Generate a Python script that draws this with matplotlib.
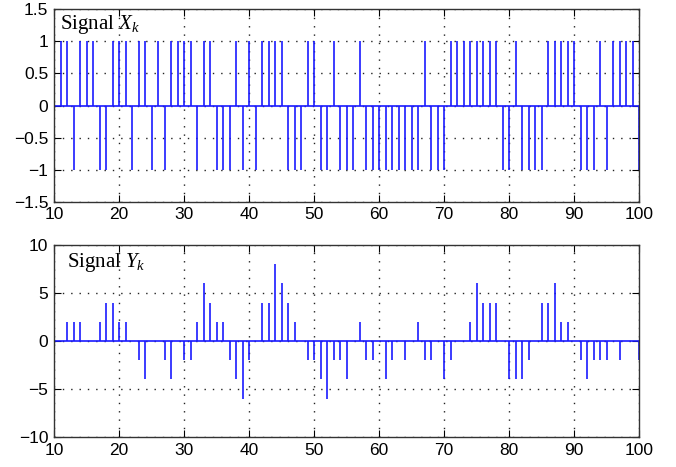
import numpy as np
import matplotlib.pyplot as plt

plt.rcParams['font.family'] = ['Liberation Sans', 'DejaVu Sans']
plt.rcParams['mathtext.fontset'] = 'custom'
plt.rcParams['mathtext.rm'] = 'Liberation Serif'
plt.rcParams['mathtext.it'] = 'Liberation Serif:italic'

k = np.arange(10, 101)

# signal X_k (+1 / -1), k = 10..100
x_vals = [-1, 1, 1, -1, 1, 1, 1, -1, -1, 1,     # 10-19
          1, 1, -1, 1, 1, -1, 1, -1, 1, 1,      # 20-29
          1, 1, -1, 1, 1, -1, -1, -1, 1, -1,    # 30-39
          1, -1, 1, 1, 1, 1, -1, -1, -1, 1,     # 40-49
          1, -1, -1, 1, -1, -1, -1, 1, -1, -1,  # 50-59
          -1, -1, -1, -1, -1, -1, -1, 1, -1, -1,  # 60-69
          -1, 1, 1, 1, 1, 1, 1, 1, 1, -1,       # 70-79
          -1, 1, -1, -1, -1, -1, 1, 1, 1, 1,    # 80-89
          1, -1, -1, -1, 1, -1, 1, 1, 1, 1,     # 90-99
          -1]                                   # 100

# signal Y_k, k = 10..100
y_vals = [-2, 0, 2, 2, 2, 0, 0, 2, 4, 4,        # 10-19
          2, 2, 0, -2, -4, 0, 0, -2, -4, 0,     # 20-29
          -2, -2, 2, 6, 4, 2, 2, -2, -4, -6,    # 30-39
          -2, 0, 4, 4, 8, 6, 4, 2, 0, -2,       # 40-49
          -2, -4, -6, -2, -2, -4, 0, 2, -2, -2, # 50-59
          0, -4, -2, 0, -2, 0, 2, -2, -2, 0,    # 60-69
          -4, -2, 0, 0, 2, 6, 4, 4, 4, 0,       # 70-79
          -4, -4, -4, -2, 0, 4, 4, 6, 2, 2,     # 80-89
          0, -2, -4, -2, -2, -2, 0, -2, 0, 0,   # 90-99
          -2]                                   # 100

fig = plt.figure(figsize=(6.76, 4.67), dpi=100)
ax1 = fig.add_axes([0.0799, 0.568, 0.8654, 0.412])
ax2 = fig.add_axes([0.0799, 0.0642, 0.8654, 0.411])

def draw(ax, vals, ylim, yticks, label, lab_xy):
    m, s, b = ax.stem(k, vals, linefmt='-', markerfmt=' ', basefmt='-')
    plt.setp(s, color='#1a1aff', linewidth=1.2)
    plt.setp(b, color='#1a1aff', linewidth=1.2)
    ax.set_xlim(10, 100)
    ax.set_ylim(*ylim)
    ax.set_xticks(np.arange(10, 101, 10))
    ax.set_yticks(yticks)
    ax.grid(True, linestyle=(0, (1, 5)), color='#222222', linewidth=1.0)
    ax.tick_params(direction='in', top=True, right=True, labelsize=12.5,
                   length=5, pad=4)
    for sp in ax.spines.values():
        sp.set_color('#333333')
        sp.set_linewidth(1.0)
    ax.text(lab_xy[0], lab_xy[1], label, transform=ax.transAxes,
            fontsize=15, ha='left', va='baseline')

draw(ax1, x_vals, (-1.5, 1.5), np.arange(-1.5, 1.6, 0.5),
     r'$\mathrm{Signal}\ X_k$', (0.011, 0.90))
draw(ax2, y_vals, (-10, 10), np.arange(-10, 11, 5),
     r'$\mathrm{Signal}\ Y_k$', (0.022, 0.885))
ax1.set_yticklabels(['\u22121.5', '\u22121', '\u22120.5', '0', '0.5', '1', '1.5'])

fig.savefig('out.png', dpi=100)
